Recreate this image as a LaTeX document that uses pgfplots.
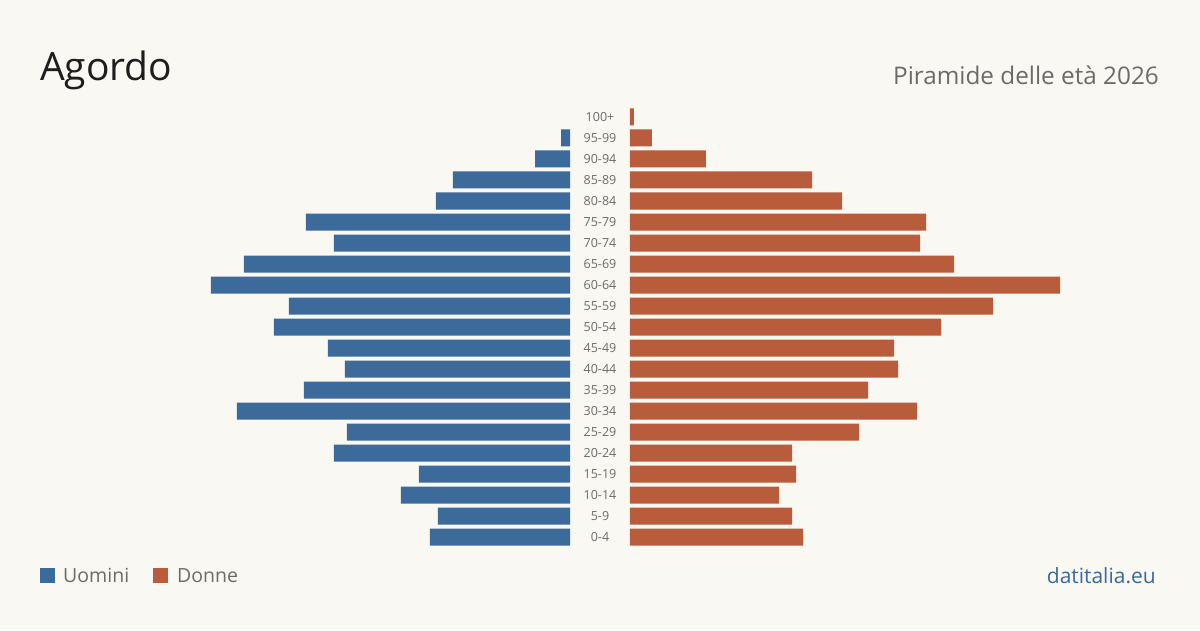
\documentclass[border=0pt]{standalone}
\usepackage{fontspec}
\setmainfont{Open Sans}
\usepackage{pgfplots}
\pgfplotsset{compat=1.18}
\definecolor{bg}{HTML}{F9F8F3}
\definecolor{men}{HTML}{3B6A9B}
\definecolor{women}{HTML}{B85C3C}
\definecolor{txt}{HTML}{1E1E1E}
\definecolor{sub}{HTML}{6B6B6B}
\begin{document}
\begin{tikzpicture}[x=1pt,y=1pt]
\fill[bg] (0pt,0pt) rectangle (1200pt,630pt);
% Men (left)
\begin{axis}[at={(0pt,82.5pt)}, anchor=south west, scale only axis,
  width=570pt, height=441pt, xmin=0, xmax=570, x dir=reverse,
  ymin=-0.5, ymax=20.5, hide axis, xbar, bar width=17pt]
\addplot[fill=men, draw=none] coordinates {
(140,0) (132,1) (169,2) (151,3) (236,4) (223,5) (333,6) (266,7) (225,8) (242,9)
(296,10) (281,11) (359,12) (326,13) (236,14) (264,15) (134,16) (117,17) (35,18) (9,19)};
\end{axis}
% Women (right)
\begin{axis}[at={(630pt,82.5pt)}, anchor=south west, scale only axis,
  width=570pt, height=441pt, xmin=0, xmax=570,
  ymin=-0.5, ymax=20.5, xbar, bar width=17pt,
  axis line style={draw=none}, major tick length=0pt, xtick=\empty,
  ytick={0,...,20},
  yticklabels={0-4,5-9,10-14,15-19,20-24,25-29,30-34,35-39,40-44,45-49,50-54,55-59,60-64,65-69,70-74,75-79,80-84,85-89,90-94,95-99,100+},
  yticklabel style={anchor=center, xshift=-30pt, font=\fontsize{12.5}{14}\selectfont, text=sub},
  legend columns=2,
  legend style={at={(axis description cs:-1.035,-0.0646)}, anchor=west, draw=none, fill=none,
    inner sep=0pt, font=\fontsize{19.5}{22}\selectfont, text=sub,
    nodes={inner sep=0pt},
    /tikz/every even column/.append style={column sep=24pt}},
  legend cell align=left]
\addlegendimage{fill=men, draw=none, legend image code/.code={\fill[men] (0pt,-7.5pt) rectangle (15pt,7.5pt); \path (23pt,0pt);}}
\addlegendentry{Uomini}
\addplot[fill=women, draw=none, legend image code/.code={\fill[women] (0pt,-7.5pt) rectangle (15pt,7.5pt); \path (24pt,0pt);}] coordinates {
(173,0) (162,1) (149,2) (166,3) (162,4) (229,5) (287,6) (238,7) (268,8) (264,9)
(311,10) (363,11) (430,12) (324,13) (290,14) (296,15) (212,16) (182,17) (76,18) (22,19) (4,20)};
\addlegendentry{Donne}
\end{axis}
\node[anchor=base west, inner sep=0pt, text=txt, font=\fontsize{39}{45}\selectfont] at (40pt,549pt) {Agordo};
\node[anchor=base east, inner sep=0pt, text=sub, font=\fontsize{24.3}{28}\selectfont] at (1159pt,545pt) {Piramide delle età 2026};
\node[anchor=base east, inner sep=0pt, text=men, font=\fontsize{21}{24}\selectfont] at (1156pt,47pt) {datitalia.eu};
\pgfresetboundingbox
\useasboundingbox (0pt,0pt) rectangle (1200pt,630pt);
\end{tikzpicture}
\end{document}
